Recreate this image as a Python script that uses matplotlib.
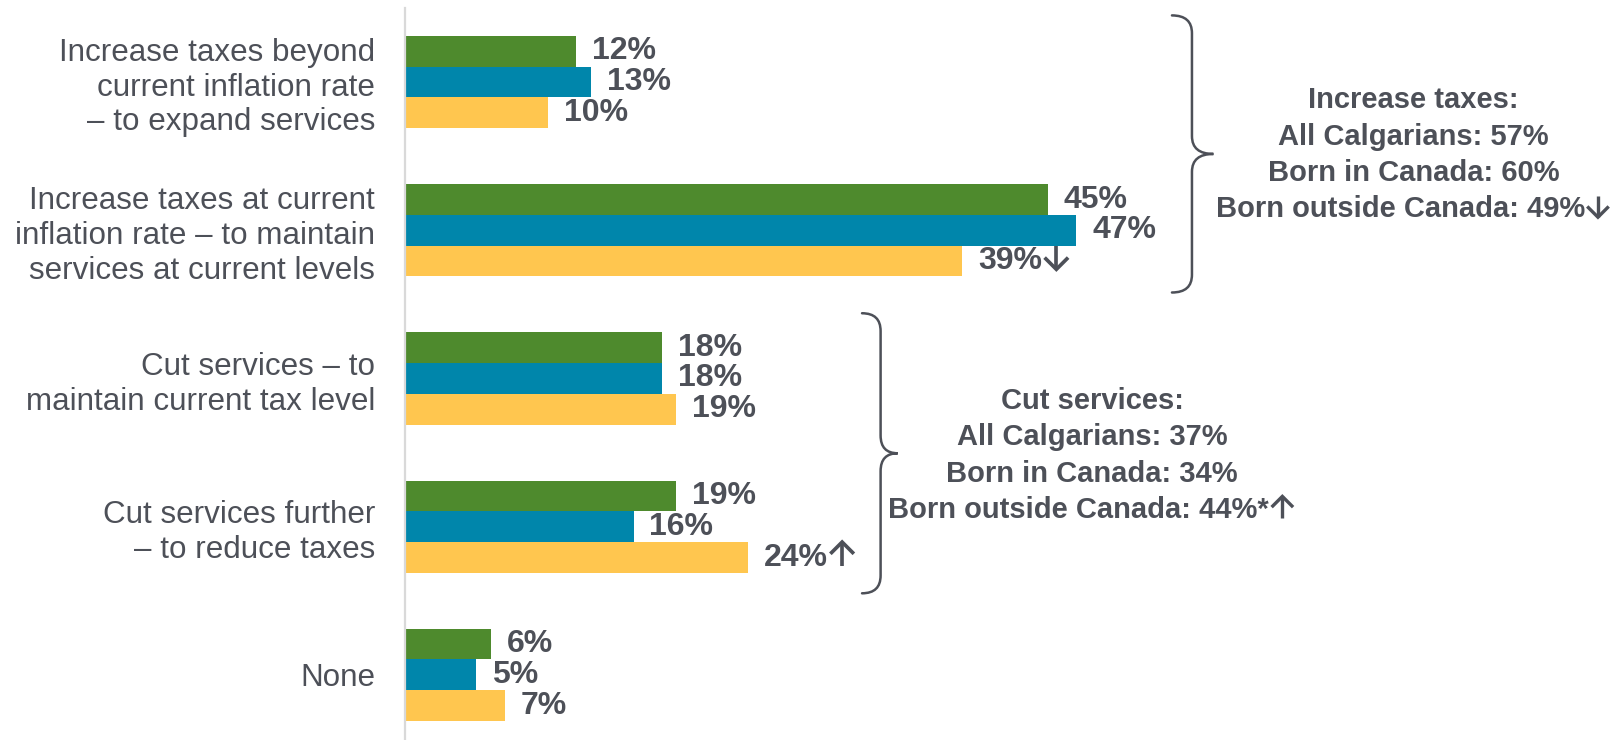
import matplotlib
matplotlib.use("Agg")
import matplotlib.pyplot as plt
import numpy as np
from matplotlib.path import Path
from matplotlib.patches import PathPatch
from matplotlib.lines import Line2D
from matplotlib.offsetbox import TextArea, HPacker, VPacker, AnnotationBbox, DrawingArea

plt.rcParams['font.family'] = ['Liberation Sans', 'DejaVu Sans']

categories = [
    "Increase taxes beyond\ncurrent inflation rate\n\u2013 to expand services",
    "Increase taxes at current\ninflation rate \u2013 to maintain\nservices at current levels",
    "Cut services \u2013 to\nmaintain current tax level",
    "Cut services further\n\u2013 to reduce taxes",
    "None",
]
series_names = ["All Calgarians", "Born in Canada", "Born outside Canada"]
all_calgarians = [12, 45, 18, 19, 6]
born_in_canada = [13, 47, 18, 16, 5]
born_outside = [10, 39, 19, 24, 7]
outside_marks = ["", "\u2193", "", "\u2191", ""]

summary_tax = ["Increase taxes:", "All Calgarians: 57%", "Born in Canada: 60%",
               "Born outside Canada: 49%\u2193"]
summary_cut = ["Cut services:", "All Calgarians: 37%", "Born in Canada: 34%",
               "Born outside Canada: 44%*\u2191"]

colors = ["#4e8a2d", "#0086ab", "#ffc64f"]
text_color = "#4d5058"
ARROWS = "\u2191\u2193"


def arrow_glyph(ch, size):
    """Draw an up/down arrow shaped like the reference's arrow glyph."""
    h = 0.74 * size
    w = 0.80 * size
    lw = 0.115 * size
    da = DrawingArea(w + 0.1 * size, h, 0, 0)
    cx = 0.05 * size + w / 2
    hw = w * 0.46
    hh = w * 0.46
    if ch == "\u2191":
        tip, base = h, 0.0
        head_y = h - hh
    else:
        tip, base = 0.0, h
        head_y = hh
    kw = dict(color=text_color, lw=lw, solid_capstyle="butt", solid_joinstyle="miter")
    da.add_artist(Line2D([cx, cx], [base, tip], **kw))
    da.add_artist(Line2D([cx - hw, cx, cx + hw], [head_y, tip, head_y], **kw))
    return da


def rich_line(s, size):
    parts, cur = [], ""
    for ch in s:
        if ch in ARROWS:
            if cur:
                parts.append((cur, False))
                cur = ""
            parts.append((ch, True))
        else:
            cur += ch
    if cur:
        parts.append((cur, False))
    children = []
    for txt, is_arrow in parts:
        if is_arrow:
            children.append(arrow_glyph(txt, size))
        else:
            children.append(TextArea(txt, textprops=dict(color=text_color, fontsize=size,
                                                          fontweight="bold")))
    return HPacker(children=children, align="baseline", pad=0, sep=0)


W, H = 1619, 740
fig = plt.figure(figsize=(W / 100, H / 100), dpi=100)
ax_left, ax_top, ax_bottom = 405, 8, 740
xmax = 85
ax = fig.add_axes([ax_left / W, (H - ax_bottom) / H, (W - ax_left) / W, (ax_bottom - ax_top) / H])

y = np.arange(len(categories))
bh = 0.2075
series = [all_calgarians, born_in_canada, born_outside]
for i, (vals, c) in enumerate(zip(series, colors)):
    pos = y + (i - 1) * bh
    ax.barh(pos, vals, height=bh, color=c, edgecolor="none")
    for j, (p, v) in enumerate(zip(pos, vals)):
        mark = outside_marks[j] if i == 2 else ""
        box = rich_line(f"{v}%{mark}", 23)
        ab = AnnotationBbox(box, (v, p), xybox=(11.5, 0), xycoords="data",
                            boxcoords="offset points", box_alignment=(0, 0.5),
                            frameon=False, pad=0, annotation_clip=False)
        ax.add_artist(ab)

ax.set_xlim(0, xmax)
ax.set_ylim(len(categories) - 1 + 0.44, -0.5)
ax.set_yticks(y)
ax.set_yticklabels(categories, fontsize=22.6, color=text_color, linespacing=1.2)
ax.tick_params(axis="y", length=0, pad=21.5)
ax.set_xticks([])
for s in ["top", "right", "bottom"]:
    ax.spines[s].set_visible(False)
ax.spines["left"].set_color("#d9d9d9")
ax.spines["left"].set_linewidth(1.6)


def brace(ax, x0, xl, xt, yt, yb, r):
    ym = (yt + yb) / 2
    verts = [(x0, yt), (xl, yt), (xl, yt + r),
             (xl, ym - r), (xl, ym), (xt, ym),
             (xl, ym), (xl, ym + r),
             (xl, yb - r), (xl, yb), (x0, yb)]
    codes = [Path.MOVETO, Path.CURVE3, Path.CURVE3,
             Path.LINETO, Path.CURVE3, Path.CURVE3,
             Path.CURVE3, Path.CURVE3,
             Path.LINETO, Path.CURVE3, Path.CURVE3]
    ax.add_patch(PathPatch(Path(verts, codes), fill=False, edgecolor=text_color, lw=1.8,
                           clip_on=False, capstyle="round"))


brace(ax, 53.7, 55.1, 56.6, 0 - 0.45, 1 + 0.42, 0.12)
brace(ax, 32.0, 33.3, 34.5, 2 - 0.44, 3 + 0.45, 0.12)


def summary(ax, lines, x, yc):
    box = VPacker(children=[rich_line(l, 21) for l in lines], align="center", pad=0, sep=6.0)
    ab = AnnotationBbox(box, (x, yc), xycoords="data", box_alignment=(0.5, 0.5),
                        frameon=False, pad=0, annotation_clip=False)
    ax.add_artist(ab)


summary(ax, summary_tax, 70.6, 0.49)
summary(ax, summary_cut, 48.1, 2.52)

fig.savefig("out.png", dpi=100)
